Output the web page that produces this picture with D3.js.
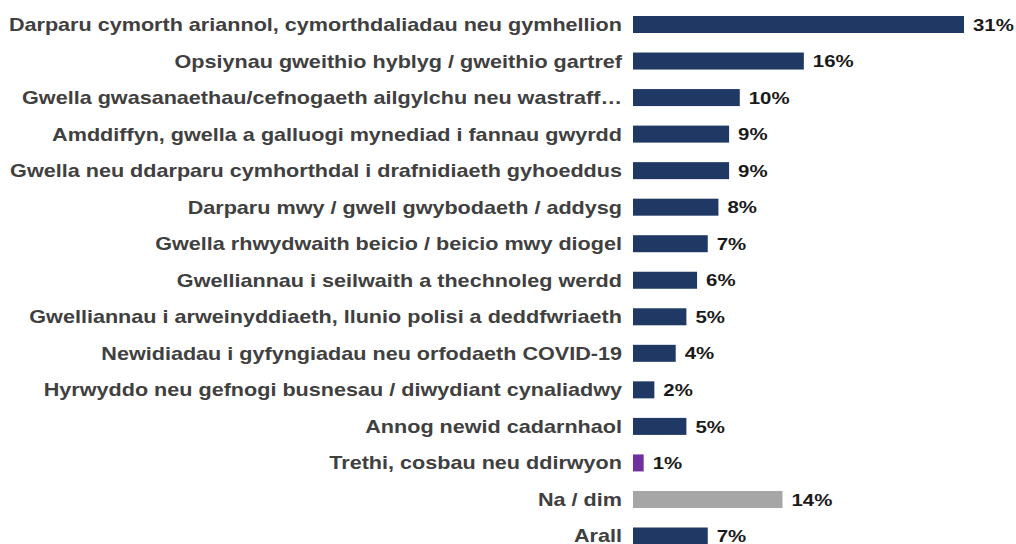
<!DOCTYPE html>
<html>
<head>
<meta charset="utf-8">
<script src="https://cdn.jsdelivr.net/npm/d3@7"></script>
<style>
  body { margin: 0; background: #fff; }
  text { font-family: "Liberation Sans", Arial, sans-serif; font-weight: bold; }
</style>
</head>
<body>
<div id="chart"></div>
<script>
const categories = [
  "Darparu cymorth ariannol, cymorthdaliadau neu gymhellion",
  "Opsiynau gweithio hyblyg / gweithio gartref",
  "Gwella gwasanaethau/cefnogaeth ailgylchu neu wastraff\u2026",
  "Amddiffyn, gwella a galluogi mynediad i fannau gwyrdd",
  "Gwella neu ddarparu cymhorthdal i drafnidiaeth gyhoeddus",
  "Darparu mwy / gwell gwybodaeth / addysg",
  "Gwella rhwydwaith beicio / beicio mwy diogel",
  "Gwelliannau i seilwaith a thechnoleg werdd",
  "Gwelliannau i arweinyddiaeth, llunio polisi a deddfwriaeth",
  "Newidiadau i gyfyngiadau neu orfodaeth COVID-19",
  "Hyrwyddo neu gefnogi busnesau / diwydiant cynaliadwy",
  "Annog newid cadarnhaol",
  "Trethi, cosbau neu ddirwyon",
  "Na / dim",
  "Arall"
];
const values = [31, 16, 10, 9, 9, 8, 7, 6, 5, 4, 2, 5, 1, 14, 7];
const groups = ["pos", "pos", "pos", "pos", "pos", "pos", "pos", "pos", "pos", "pos", "pos", "pos", "neg", "none", "pos"];

const colour = d3.scaleOrdinal()
  .domain(["pos", "neg", "none"])
  .range(["#1f3864", "#7030a0", "#a6a6a6"]);

const width = 1016, height = 544;
const x0 = 633;
const barH = 17;
const stretch = 1.2; // text in the original is drawn wide

const svg = d3.select("#chart").append("svg")
  .attr("width", width)
  .attr("height", height);

const x = d3.scaleLinear().domain([0, 31]).range([x0, x0 + 331]);
const y = d3.scalePoint()
  .domain(categories)
  .range([24.5, 536]);

const data = categories.map((c, i) => ({cat: c, val: values[i], grp: groups[i]}));

// bars
svg.selectAll("rect.bar")
  .data(data)
  .enter().append("rect")
  .attr("class", "bar")
  .attr("x", x(0))
  .attr("y", d => y(d.cat) - barH / 2)
  .attr("width", d => x(d.val) - x(0))
  .attr("height", barH)
  .attr("fill", d => colour(d.grp));

// category labels
svg.selectAll("text.cat")
  .data(data)
  .enter().append("text")
  .attr("class", "cat")
  .attr("transform", d => "translate(622," + y(d.cat) + ") scale(" + stretch + ",1)")
  .attr("dy", "0.36em")
  .attr("text-anchor", "end")
  .attr("fill", "#404040")
  .style("font-size", "18px")
  .text(d => d.cat);

// value labels
svg.selectAll("text.val")
  .data(data)
  .enter().append("text")
  .attr("class", "val")
  .attr("transform", d => "translate(" + (x(d.val) + 9) + "," + y(d.cat) + ") scale(" + stretch + ",1)")
  .attr("dy", "0.36em")
  .attr("fill", "#1a1a1a")
  .style("font-size", "17px")
  .text(d => d.val + "%");
</script>
</body>
</html>
